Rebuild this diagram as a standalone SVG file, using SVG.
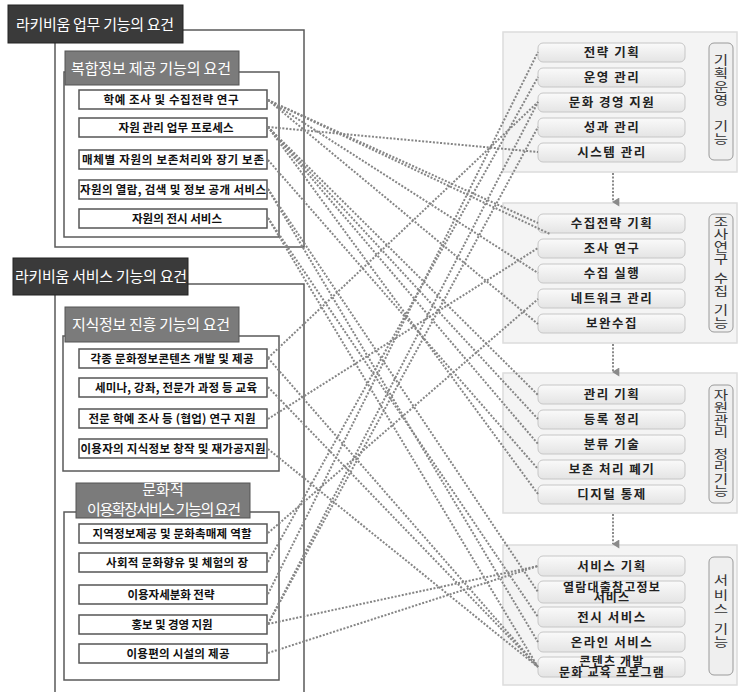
<svg xmlns="http://www.w3.org/2000/svg" width="738" height="692" viewBox="0 0 738 692">
<defs>
<linearGradient id="ig" x1="0" y1="0" x2="0" y2="1">
<stop offset="0" stop-color="#fafafa"/>
<stop offset="1" stop-color="#e4e4e4"/>
</linearGradient>
<marker id="ah" viewBox="0 0 10 10" refX="5" refY="9" markerWidth="9" markerHeight="9" orient="auto-start-reverse" markerUnits="userSpaceOnUse">
<path d="M0,2 L10,2 L5,10 Z" fill="#8a8a8a"/>
</marker>
</defs>
<style>
text{font-family:'Noto Sans CJK KR','Noto Sans',sans-serif;}
.frame{fill:none;stroke:#5a5a5a;stroke-width:1.5;}
.title{fill:#3a3a3a;stroke:#222;stroke-width:1;}
.sub{fill:#7b7b7b;stroke:#555;stroke-width:1;}
.tt{fill:#fff;font-size:15px;text-anchor:middle;}
.li{fill:#fff;stroke:#555;stroke-width:1.5;}
.lt{fill:#111;font-size:11.5px;font-weight:bold;text-anchor:middle;}
.panel{fill:#f4f4f4;stroke:#dcdcdc;stroke-width:1.5;}
.ri{fill:url(#ig);stroke:#c6c6c6;stroke-width:1;}
.rt{fill:#222;font-size:12.5px;font-weight:bold;text-anchor:middle;letter-spacing:1.5px;}
.rt2{fill:#222;font-size:12px;font-weight:bold;text-anchor:middle;letter-spacing:1.2px;}
.lab{fill:#efefef;stroke:#9a9a9a;stroke-width:1;}
.vt{fill:#333;font-size:12.5px;text-anchor:middle;writing-mode:tb;}
.con line{stroke:#858585;stroke-width:2;stroke-dasharray:2 1.6;fill:none;}
.arr{stroke:#8a8a8a;stroke-width:2;stroke-dasharray:2 1.6;fill:none;}
</style>

<!-- Left group 1 -->
<g id="grp-work">
<rect class="frame" x="55" y="30" width="249" height="217"/>
<rect class="title" x="8" y="5" width="175" height="38"/>
<text class="tt" x="95" y="30" font-size="15.5" textLength="158">라키비움 업무 기능의 요건</text>
</g>
<g id="grp-complex">
<rect class="frame" x="64" y="72" width="215" height="165"/>
<rect class="sub" x="65" y="51" width="174" height="34"/>
<text class="tt" x="151" y="74" textLength="160">복합정보 제공 기능의 요건</text>
</g>
<g id="L1"><rect class="li" x="79" y="90" width="188" height="19"/><text class="lt" x="171" y="104" textLength="135">학예 조사 및 수집전략 연구</text></g>
<g id="L2"><rect class="li" x="79" y="118" width="188" height="19"/><text class="lt" x="176" y="132" textLength="115">자원 관리 업무 프로세스</text></g>
<g id="L3"><rect class="li" x="79" y="150" width="188" height="19"/><text class="lt" x="173" y="164" textLength="182">매체별 자원의 보존처리와 장기 보존</text></g>
<g id="L4"><rect class="li" x="79" y="180" width="188" height="19"/><text class="lt" x="173" y="194" textLength="186">자원의 열람, 검색 및 정보 공개 서비스</text></g>
<g id="L5"><rect class="li" x="79" y="209" width="188" height="19"/><text class="lt" x="177" y="223" textLength="90">자원의 전시 서비스</text></g>

<!-- Left group 2 -->
<g id="grp-service">
<path class="frame" d="M55,700 V284 H304 V700"/>
<rect class="title" x="13" y="258" width="175" height="37"/>
<text class="tt" x="101" y="282" font-size="15.5" textLength="172">라키비움 서비스 기능의 요건</text>
</g>
<g id="grp-knowledge">
<rect class="frame" x="63" y="336" width="216" height="135"/>
<rect class="sub" x="65" y="307" width="174" height="35"/>
<text class="tt" x="151" y="330" textLength="158">지식정보 진흥 기능의 요건</text>
</g>
<g id="K1"><rect class="li" x="79" y="349" width="188" height="19"/><text class="lt" x="172" y="363" textLength="163">각종 문화정보콘텐츠 개발 및 제공</text></g>
<g id="K2"><rect class="li" x="79" y="378" width="188" height="19"/><text class="lt" x="176" y="392" textLength="162">세미나, 강좌, 전문가 과정 등 교육</text></g>
<g id="K3"><rect class="li" x="79" y="409" width="188" height="19"/><text class="lt" x="172" y="423" textLength="167">전문 학예 조사 등 (협업) 연구 지원</text></g>
<g id="K4"><rect class="li" x="79" y="439" width="188" height="19"/><text class="lt" x="173" y="453" textLength="185">이용자의 지식정보 창작 및 재가공지원</text></g>

<g id="grp-culture">
<rect class="frame" x="64" y="512" width="215" height="168"/>
<rect class="sub" x="76" y="483" width="174" height="35"/>
<text class="tt" font-size="12.5"><tspan x="163" y="495">문화적</tspan><tspan x="164" y="515" textLength="154">이용확장서비스 기능의 요건</tspan></text>
</g>
<g id="C1"><rect class="li" x="79" y="524" width="188" height="19"/><text class="lt" x="172" y="538" textLength="159">지역정보제공 및 문화촉매제 역할</text></g>
<g id="C2"><rect class="li" x="79" y="553" width="188" height="19"/><text class="lt" x="177" y="567" textLength="142">사회적 문화향유 및 체험의 장</text></g>
<g id="C3"><rect class="li" x="79" y="585" width="188" height="19"/><text class="lt" x="171" y="599" textLength="87">이용자세분화 전략</text></g>
<g id="C4"><rect class="li" x="79" y="615" width="188" height="19"/><text class="lt" x="172" y="629" textLength="81">홍보 및 경영 지원</text></g>
<g id="C5"><rect class="li" x="79" y="644" width="188" height="19"/><text class="lt" x="178" y="658" textLength="103">이용편의 시설의 제공</text></g>

<!-- Right panels -->
<g id="P1">
<rect class="panel" x="503" y="32" width="234" height="140"/>
<rect class="lab" x="709" y="43" width="24" height="117" rx="5"/>
<g transform="translate(721,0) scale(1.25,1)">
<text class="vt" x="0" y="81" font-size="13" letter-spacing="1">기획운영</text>
<text class="vt" x="0" y="133" font-size="13">기능</text>
</g>
</g>
<g id="R1a"><rect class="ri" x="538" y="43" width="147" height="19" rx="5"/><text class="rt" x="612" y="57">전략 기획</text></g>
<g id="R1b"><rect class="ri" x="538" y="68" width="147" height="19" rx="5"/><text class="rt" x="612" y="82">운영 관리</text></g>
<g id="R1c"><rect class="ri" x="538" y="93" width="147" height="19" rx="5"/><text class="rt" x="612" y="107">문화 경영 지원</text></g>
<g id="R1d"><rect class="ri" x="538" y="118" width="147" height="19" rx="5"/><text class="rt" x="612" y="132">성과 관리</text></g>
<g id="R1e"><rect class="ri" x="538" y="143" width="147" height="19" rx="5"/><text class="rt" x="612" y="157">시스템 관리</text></g>

<g id="P2">
<rect class="panel" x="503" y="203" width="234" height="140"/>
<rect class="lab" x="709" y="214" width="24" height="118" rx="5"/>
<g transform="translate(721,0) scale(1.25,1)">
<text class="vt" x="0" y="241" font-size="12">조사연구</text>
<text class="vt" x="0" y="285" font-size="12">수집</text>
<text class="vt" x="0" y="317" font-size="12">기능</text>
</g>
</g>
<g id="R2a"><rect class="ri" x="538" y="214" width="147" height="19" rx="5"/><text class="rt" x="612" y="228">수집전략 기획</text></g>
<g id="R2b"><rect class="ri" x="538" y="239" width="147" height="19" rx="5"/><text class="rt" x="612" y="253">조사 연구</text></g>
<g id="R2c"><rect class="ri" x="538" y="264" width="147" height="19" rx="5"/><text class="rt" x="612" y="278">수집 실행</text></g>
<g id="R2d"><rect class="ri" x="538" y="289" width="147" height="19" rx="5"/><text class="rt" x="612" y="303">네트워크 관리</text></g>
<g id="R2e"><rect class="ri" x="538" y="314" width="147" height="19" rx="5"/><text class="rt" x="612" y="328">보완수집</text></g>

<g id="P3">
<rect class="panel" x="503" y="373" width="234" height="140"/>
<rect class="lab" x="709" y="385" width="24" height="118" rx="5"/>
<g transform="translate(721,0) scale(1.25,1)">
<text class="vt" x="0" y="414" font-size="12.5">자원관리</text>
<text class="vt" x="0" y="473" font-size="12">정리기능</text>
</g>
</g>
<g id="R3a"><rect class="ri" x="538" y="385" width="147" height="19" rx="5"/><text class="rt" x="612" y="399">관리 기획</text></g>
<g id="R3b"><rect class="ri" x="538" y="410" width="147" height="19" rx="5"/><text class="rt" x="612" y="424">등록 정리</text></g>
<g id="R3c"><rect class="ri" x="538" y="435" width="147" height="19" rx="5"/><text class="rt" x="612" y="449">분류 기술</text></g>
<g id="R3d"><rect class="ri" x="538" y="460" width="147" height="19" rx="5"/><text class="rt" x="612" y="474">보존 처리 폐기</text></g>
<g id="R3e"><rect class="ri" x="538" y="485" width="147" height="19" rx="5"/><text class="rt" x="612" y="499">디지털 통제</text></g>

<g id="P4">
<rect class="panel" x="503" y="545" width="234" height="140"/>
<rect class="lab" x="709" y="557" width="24" height="118" rx="5"/>
<g transform="translate(721,0) scale(1.25,1)">
<text class="vt" x="0" y="596" font-size="13" letter-spacing="2">서비스</text>
<text class="vt" x="0" y="636" font-size="13">기능</text>
</g>
</g>
<g id="R4a"><rect class="ri" x="538" y="556" width="147" height="20" rx="5"/><text class="rt" x="612" y="571">서비스 기획</text></g>
<g id="R4b"><rect class="ri" x="538" y="581" width="147" height="22" rx="5"/><text class="rt2"><tspan x="612" y="592">열람대출참고정보</tspan><tspan x="612" y="602">서비스</tspan></text></g>
<g id="R4c"><rect class="ri" x="538" y="607" width="147" height="20" rx="5"/><text class="rt" x="612" y="622">전시 서비스</text></g>
<g id="R4d"><rect class="ri" x="538" y="632" width="147" height="20" rx="5"/><text class="rt" x="612" y="647">온라인 서비스</text></g>
<g id="R4e"><rect class="ri" x="538" y="657" width="147" height="20" rx="5"/><text class="rt2"><tspan x="612" y="666">콘텐츠 개발</tspan><tspan x="612" y="677">문화 교육 프로그램</tspan></text></g>

<!-- panel arrows -->
<g id="flow">
<line class="arr" x1="613" y1="173" x2="613" y2="202" marker-end="url(#ah)"/>
<line class="arr" x1="613" y1="344" x2="613" y2="372" marker-end="url(#ah)"/>
<line class="arr" x1="613" y1="514" x2="613" y2="544" marker-end="url(#ah)"/>
</g>

<!-- connectors -->
<g id="connectors" class="con">
<line x1="268" y1="100" x2="538" y2="223"/>
<line x1="268" y1="100" x2="550" y2="234"/>
<line x1="268" y1="100" x2="538" y2="273"/>
<line x1="268" y1="100" x2="538" y2="324"/>
<line x1="268" y1="127" x2="538" y2="152"/>
<line x1="268" y1="127" x2="538" y2="395"/>
<line x1="268" y1="127" x2="538" y2="419"/>
<line x1="268" y1="127" x2="538" y2="444"/>
<line x1="268" y1="160" x2="538" y2="469"/>
<line x1="268" y1="127" x2="538" y2="494"/>
<line x1="268" y1="189" x2="538" y2="592"/>
<line x1="268" y1="189" x2="538" y2="642"/>
<line x1="268" y1="218" x2="538" y2="617"/>
<line x1="268" y1="218" x2="538" y2="667"/>
<line x1="268" y1="358" x2="538" y2="102"/>
<line x1="268" y1="358" x2="538" y2="667"/>
<line x1="268" y1="387" x2="538" y2="667"/>
<line x1="268" y1="419" x2="538" y2="248"/>
<line x1="268" y1="449" x2="538" y2="667"/>
<line x1="268" y1="533" x2="538" y2="299"/>
<line x1="268" y1="562" x2="538" y2="77"/>
<line x1="268" y1="594" x2="538" y2="52"/>
<line x1="268" y1="624" x2="538" y2="102"/>
<line x1="268" y1="624" x2="538" y2="127"/>
<line x1="268" y1="624" x2="538" y2="566"/>
<line x1="268" y1="653" x2="538" y2="566"/>
</g>
</svg>
